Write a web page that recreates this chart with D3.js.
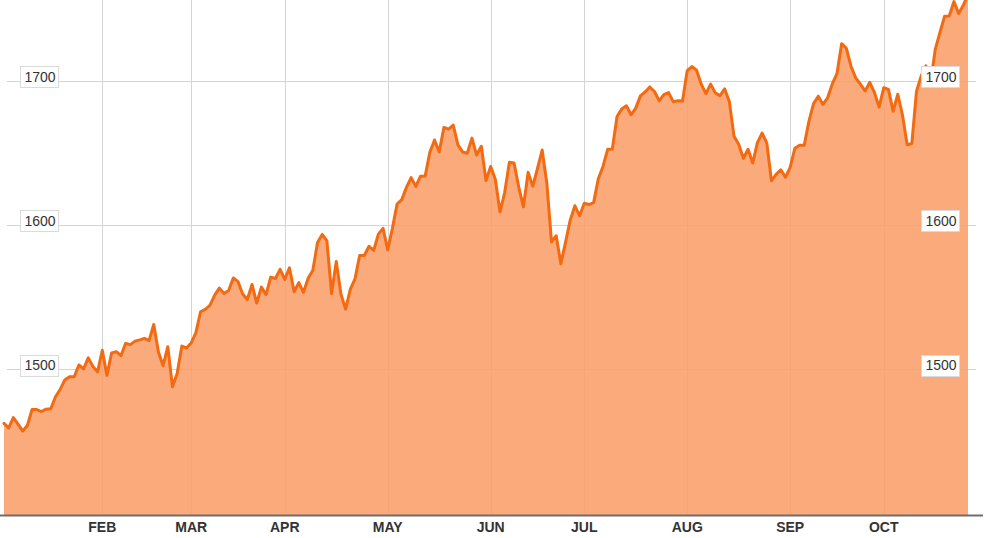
<!DOCTYPE html>
<html>
<head>
<meta charset="utf-8">
<script src="https://cdn.jsdelivr.net/npm/d3@7"></script>
<style>
  html, body { margin: 0; padding: 0; background: #fff; }
  svg { display: block; }
</style>
</head>
<body>
<svg id="chart" width="1001" height="538"></svg>
<script>
// Daily closes, one array per month
const jan = [1462.42,1459.37,1466.47,1461.89,1457.15,1461.02,1472.12,1472.05,1470.68,1472.34,1472.63,1480.94,1485.98,1492.56,1494.81,1494.82,1502.96,1500.18,1507.84,1501.96,1498.11];
const feb = [1513.17,1495.71,1511.29,1512.12,1509.39,1517.93,1517.01,1519.43,1520.33,1521.38,1519.79,1530.94,1511.95,1502.42,1515.60,1487.85,1496.94,1515.99,1514.68];
const mar = [1518.20,1525.20,1539.79,1541.46,1544.26,1551.18,1556.22,1552.48,1554.52,1563.23,1560.70,1552.10,1548.34,1558.71,1545.80,1556.89,1551.69,1563.77,1562.85,1569.19];
const apr = [1562.17,1570.25,1553.69,1559.98,1553.28,1563.07,1568.61,1587.73,1593.37,1588.85,1552.36,1574.57,1552.01,1541.61,1555.25,1562.50,1578.78,1578.79,1585.16,1582.24,1593.61,1597.57];
const may = [1582.70,1597.59,1614.42,1617.50,1625.96,1632.69,1626.67,1633.70,1633.77,1650.34,1658.78,1650.47,1667.47,1666.29,1669.16,1655.35,1650.51,1649.60,1660.06,1648.36,1654.41,1630.74];
const jun = [1640.42,1631.38,1608.90,1622.56,1643.38,1642.81,1626.13,1612.52,1636.36,1626.73,1639.04,1651.81,1628.93,1588.19,1592.43,1573.09,1588.03,1603.26,1613.20,1606.28];
const jul = [1614.96,1614.08,1615.41,1631.89,1640.46,1652.32,1652.62,1675.02,1680.19,1682.50,1676.26,1680.91,1689.37,1692.09,1695.53,1692.39,1685.94,1690.25,1691.65,1685.33,1685.96,1685.73];
const aug = [1706.87,1709.67,1707.14,1697.37,1690.91,1697.48,1691.42,1689.47,1694.16,1685.39,1661.32,1655.83,1646.06,1652.35,1642.80,1656.96,1663.50,1656.78,1630.48,1634.96,1638.17,1632.97];
const sep = [1639.77,1653.08,1655.08,1655.17,1671.71,1683.99,1689.13,1683.42,1687.99,1697.60,1704.76,1725.52,1722.34,1709.91,1701.84,1697.42,1692.77,1698.67,1691.75,1681.55];
const oct = [1695.00,1693.87,1678.66,1690.50,1676.12,1655.45,1656.40,1692.56,1703.20,1710.14,1698.06,1721.54,1733.15,1744.50,1744.66,1754.67,1746.38,1752.07,1759.77];

const monthSeries = [jan, feb, mar, apr, may, jun, jul, aug, sep, oct];
const monthLabels = ["", "FEB", "MAR", "APR", "MAY", "JUN", "JUL", "AUG", "SEP", "OCT"];
const yTicks = [1500, 1600, 1700];

// Build flat series + month start indices
const values = [];
const monthStarts = [];
monthSeries.forEach(m => { monthStarts.push(values.length); m.forEach(v => values.push(v)); });
const data = values.map((v, i) => ({ i, v }));

const W = 1001, H = 538;
const plotLeft = 4, plotRight = 968, plotBottom = 515;

const svg = d3.select("#chart");

const x = d3.scaleLinear().domain([0, values.length - 1]).range([plotLeft, plotRight]);
const y = d3.scaleLinear().domain([1399, 1700]).range([plotBottom, 80.5]);

const font = "'Liberation Sans', Arial, Helvetica, sans-serif";

// Gridlines
const grid = svg.append("g");
monthStarts.forEach((s, k) => {
  if (k === 0) return;
  grid.append("line")
    .attr("x1", Math.round(x(s)) + 0.5).attr("x2", Math.round(x(s)) + 0.5)
    .attr("y1", 0).attr("y2", plotBottom)
    .attr("stroke", "#d4d4d4").attr("stroke-width", 1);
});
yTicks.forEach(t => {
  grid.append("line")
    .attr("x1", 7).attr("x2", 976)
    .attr("y1", Math.round(y(t)) + 0.5).attr("y2", Math.round(y(t)) + 0.5)
    .attr("stroke", "#d4d4d4").attr("stroke-width", 1);
});

// Area
const area = d3.area()
  .x(d => x(d.i))
  .y0(y(1399))
  .y1(d => y(d.v));
svg.append("path")
  .datum(data)
  .attr("d", area)
  .attr("fill", "rgb(250,158,106)")
  .attr("fill-opacity", 0.88);

// Line
const line = d3.line().x(d => x(d.i)).y(d => y(d.v));
svg.append("path")
  .datum(data)
  .attr("d", line)
  .attr("fill", "none")
  .attr("stroke", "#f26a12")
  .attr("stroke-width", 3)
  .attr("stroke-linejoin", "round")
  .attr("stroke-linecap", "round");

// Bottom axis line
svg.append("line")
  .attr("x1", 0).attr("x2", 983)
  .attr("y1", plotBottom + 0.5).attr("y2", plotBottom + 0.5)
  .attr("stroke", "#6e6e6e").attr("stroke-width", 2);

// Month labels
monthStarts.forEach((s, k) => {
  if (!monthLabels[k]) return;
  svg.append("text")
    .attr("x", x(s))
    .attr("y", 531.5)
    .attr("text-anchor", "middle")
    .attr("font-family", font)
    .attr("font-size", 14)
    .attr("font-weight", "bold")
    .attr("fill", "#333")
    .text(monthLabels[k]);
});

// Y labels in boxes, left and right
const labelG = svg.append("g");
[{ cx: 40 }, { cx: 941 }].forEach(side => {
  yTicks.forEach(t => {
    const cy = y(t) - 4;
    labelG.append("rect")
      .attr("x", side.cx - 19.5).attr("y", Math.round(cy - 10.5) + 0.5)
      .attr("width", 38).attr("height", 21)
      .attr("fill", "#fff")
      .attr("stroke", "#dadada").attr("stroke-width", 1);
    labelG.append("text")
      .attr("x", side.cx)
      .attr("y", cy + 5)
      .attr("text-anchor", "middle")
      .attr("font-family", font)
      .attr("font-size", 14)
      .attr("fill", "#333")
      .text(t);
  });
});
</script>
</body>
</html>
